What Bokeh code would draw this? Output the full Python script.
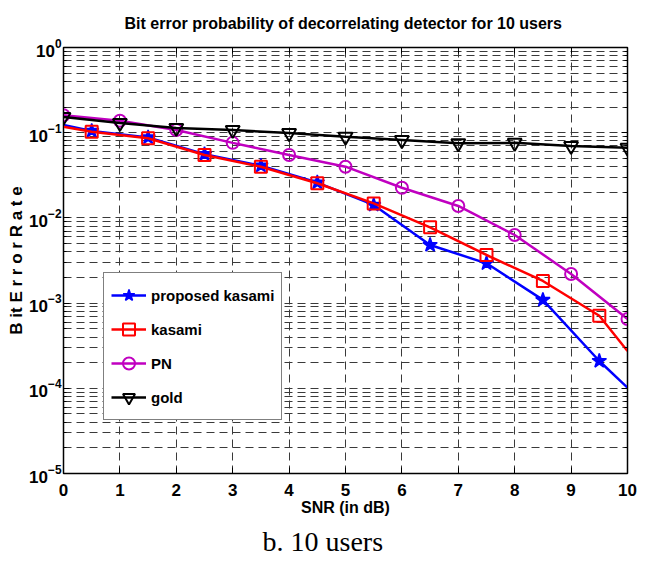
from bokeh.plotting import figure
from bokeh.models import (FixedTicker, LinearAxis, LogAxis, Legend, LegendItem, Title,
                          CustomLabelingPolicy)
from bokeh.embed import file_html
from bokeh.resources import INLINE

# ---- data ----
snr_int = [0, 1, 2, 3, 4, 5, 6, 7, 8, 9, 10]
ber_gold = [0.153, 0.130, 0.1135, 0.1075, 0.099, 0.0897, 0.082, 0.075, 0.076, 0.0698, 0.0667]
ber_pn = [0.160, 0.138, 0.1075, 0.076, 0.0547, 0.0399, 0.0226, 0.0138, 0.0063, 0.0022, 0.00065]

snr_half = [0, 0.5, 1.5, 2.5, 3.5, 4.5, 5.5, 6.5, 7.5, 8.5, 9.5, 10]
ber_kasami = [0.1175, 0.1027, 0.0860, 0.0547, 0.0399, 0.0255, 0.0148, 0.00776, 0.00367,
              0.00182, 0.000711, 0.000274]
ber_proposed = [0.123, 0.105, 0.088, 0.056, 0.041, 0.026, 0.0142, 0.00481, 0.00293,
                0.00109, 0.000209, 0.0001016]

x_ticks = [0, 1, 2, 3, 4, 5, 6, 7, 8, 9, 10]
y_decades = [1e-5, 1e-4, 1e-3, 1e-2, 1e-1, 1e0]
y_minor = [m * d for d in y_decades[:-1] for m in range(2, 10)]

FONT = "Liberation Sans"

p = figure(width=651, height=565, y_axis_type="log",
           x_range=(0, 10), y_range=(1e-5, 1),
           output_backend="svg", toolbar_location=None,
           min_border_left=63, min_border_right=23,
           min_border_top=47, min_border_bottom=92)

p.background_fill_color = "white"
p.border_fill_color = "white"
p.outline_line_color = "black"
p.outline_line_width = 1.5

# title
p.title.text = "Bit error probability of decorrelating  detector for 10 users"
p.title.align = "center"
p.title.text_font = FONT
p.title.text_font_style = "bold"
p.title.text_font_size = "16px"
p.title.text_color = "black"

# axes
xt = FixedTicker(ticks=x_ticks)
yt = FixedTicker(ticks=y_decades, minor_ticks=y_minor)
p.xaxis.ticker = xt
p.yaxis.ticker = yt
for ax in (p.xaxis[0], p.yaxis[0]):
    ax.major_tick_in = 6
    ax.major_tick_out = 0
    ax.minor_tick_in = 3
    ax.minor_tick_out = 0
    ax.axis_line_color = "black"
    ax.major_tick_line_color = "black"
    ax.minor_tick_line_color = "black"
    ax.major_label_text_font = FONT
    ax.major_label_text_font_style = "bold"
    ax.major_label_text_color = "black"
    ax.axis_label_text_font = FONT
    ax.axis_label_text_font_style = "bold"
    ax.axis_label_text_color = "black"

p.xaxis.major_label_text_font_size = "17px"
p.xaxis.major_label_standoff = 10
p.xaxis.axis_label = "SNR (in dB)"
p.xaxis.axis_label_text_font_size = "16px"
p.xaxis.axis_label_standoff = 0

p.yaxis.major_label_text_font_size = "17px"
p.yaxis.major_label_standoff = 2
p.yaxis.axis_label = "B it E r r o r R a t e"
p.yaxis.axis_label_text_font_size = "17px"
p.yaxis.axis_label_standoff = 0

top_ax = LinearAxis(ticker=xt, major_tick_in=6, major_tick_out=0, minor_tick_in=0, minor_tick_out=0,
                    major_label_policy=CustomLabelingPolicy(code="return []"),
                    axis_line_color="black", major_label_standoff=0)
right_ax = LogAxis(ticker=yt, major_tick_in=6, major_tick_out=0, minor_tick_in=3, minor_tick_out=0,
                   major_label_policy=CustomLabelingPolicy(code="return []"),
                   axis_line_color="black", major_label_standoff=0)
p.add_layout(top_ax, "above")
p.add_layout(right_ax, "right")

# grids
for g in (p.xgrid[0], p.ygrid[0]):
    g.grid_line_color = "#3a3a3a"
    g.grid_line_dash = "8 5"
    g.grid_line_width = 1
p.ygrid.minor_grid_line_color = "#3a3a3a"
p.ygrid.minor_grid_line_dash = "8 5"
p.ygrid.minor_grid_line_width = 1

# series
LW = 2.5
l1 = p.line(snr_half, ber_proposed, line_color="#0000ff", line_width=LW)
m1 = p.scatter(snr_half[1:-1], ber_proposed[1:-1], marker="star", size=15,
               fill_color="#0000ff", line_color="#0000ff", line_width=1.5)
l2 = p.line(snr_half, ber_kasami, line_color="#ff0000", line_width=LW)
m2 = p.scatter(snr_half[1:-1], ber_kasami[1:-1], marker="square", size=12,
               fill_color=None, line_color="#ff0000", line_width=2)
l3 = p.line(snr_int, ber_pn, line_color="#c000c0", line_width=LW)
m3 = p.scatter(snr_int, ber_pn, marker="circle", size=12,
               fill_color=None, line_color="#c000c0", line_width=2)
l4 = p.line(snr_int, ber_gold, line_color="black", line_width=LW)
m4 = p.scatter(snr_int, ber_gold, marker="inverted_triangle", size=14,
               fill_color=None, line_color="black", line_width=2)

legend = Legend(items=[
    LegendItem(label="proposed kasami", renderers=[l1, m1]),
    LegendItem(label="kasami", renderers=[l2, m2]),
    LegendItem(label="PN", renderers=[l3, m3]),
    LegendItem(label="gold", renderers=[l4, m4]),
], location=(40, 53))
legend.border_line_color = "black"
legend.border_line_width = 1.5
legend.background_fill_color = "white"
legend.background_fill_alpha = 1
legend.label_text_font = FONT
legend.label_text_font_style = "bold"
legend.label_text_font_size = "15px"
legend.label_text_color = "black"
legend.glyph_width = 35
legend.glyph_height = 30
legend.label_height = 30
legend.label_standoff = 5
legend.spacing = 4
legend.padding = 7
legend.margin = 0
p.add_layout(legend)

caption = Title(text="b. 10 users", align="left", offset=199, text_font="Liberation Serif",
                text_font_style="normal", text_font_size="28px", text_color="black")
p.add_layout(caption, "below")

open("out.html", "w").write(file_html(p, INLINE))
